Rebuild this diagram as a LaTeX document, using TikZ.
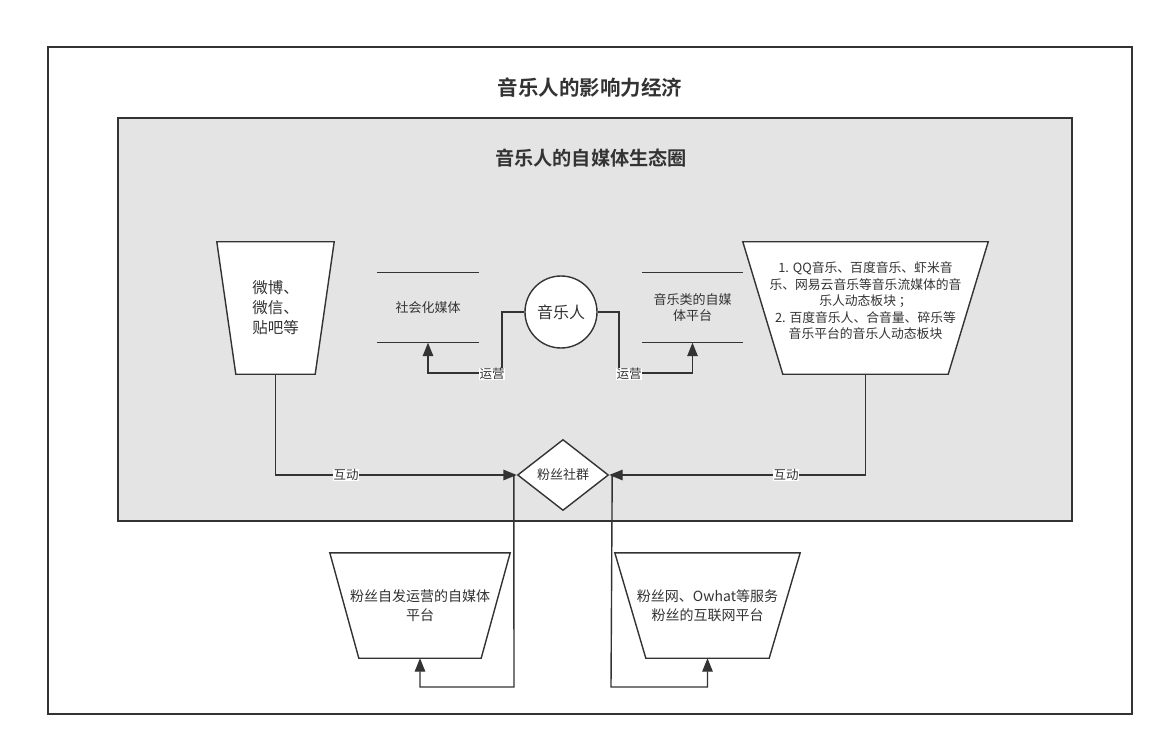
\documentclass[tikz,border=0pt]{standalone}
\usepackage{fontspec}
\setmainfont{Noto Sans CJK SC}[BoldFont={Noto Sans CJK SC Bold}]
\usetikzlibrary{arrows.meta,shapes.geometric}
\definecolor{ink}{HTML}{333333}
\definecolor{panel}{HTML}{E4E4E4}
\begin{document}
\begin{tikzpicture}[x=1pt,y=-1pt,
  ln/.style={draw=ink,line width=1.4pt},
  arr/.style={ln,-{Triangle[length=13.5pt,width=10.5pt]}},
  box/.style={draw=none,inner sep=0,minimum width=#1},
  txt/.style={text=ink,align=center,inner sep=0},
  lbl/.style={text=ink,fill=white,inner sep=0.5pt,font=\fontsize{12.5}{14}\selectfont},
  ttl/.style={text=ink,font=\bfseries}]
\useasboundingbox[fill=white] (0,0) rectangle (1163,746);
% frames
\node[draw=ink,line width=1.4pt,inner sep=0,minimum width=1084,minimum height=667] (outer) at (590,380.5) {};
\node[draw=ink,fill=panel,line width=1.4pt,inner sep=0,minimum width=954,minimum height=403] (eco) at (595,319.5) {};
\node[ttl,font=\fontsize{20.5}{24}\selectfont\bfseries] (t1) at (590,88) {音乐人的影响力经济};
\node[ttl,font=\fontsize{19.2}{24}\selectfont\bfseries] (t2) at (591,158) {音乐人的自媒体生态圈};
% left trapezoid
\node[box=117,minimum height=132] (lt) at (275.5,308) {};
\draw[ln,fill=white] (lt.north west) -- (lt.north east) -- ([xshift=-19pt]lt.south east) -- ([xshift=19pt]lt.south west) -- cycle;
\node[txt,font=\fontsize{15.5}{20}\selectfont] (ltt) at (lt.center) {微博、\\微信、\\贴吧等};
% right trapezoid
\node[box=245,minimum height=132] (rt) at (865.5,308) {};
\draw[ln,fill=white] (rt.north west) -- (rt.north east) -- ([xshift=-40pt]rt.south east) -- ([xshift=40pt]rt.south west) -- cycle;
\node[txt,font=\fontsize{12.8}{16.5}\selectfont] (rtt) at ([yshift=7pt]rt.center) {1. QQ音乐、百度音乐、虾米音\\乐、网易云音乐等音乐流媒体的音\\乐人动态板块 ；\\2. 百度音乐人、合音量、碎乐等\\音乐平台的音乐人动态板块};
% social media
\node[box=102,minimum height=70] (sm) at (428,307.5) {};
\draw[ln] (sm.north west) -- (sm.north east) (sm.south west) -- (sm.south east);
\node[txt,font=\fontsize{13}{16}\selectfont] (smt) at (sm.center) {社会化媒体};
% music platforms
\node[box=101,minimum height=70] (mp) at (692.5,307.5) {};
\draw[ln] (mp.north west) -- (mp.north east) (mp.south west) -- (mp.south east);
\node[txt,font=\fontsize{13}{16.5}\selectfont] (mpt) at (mp.center) {音乐类的自媒\\体平台};
% musician
\node[circle,ln,fill=white,minimum size=72,inner sep=0,text=ink,font=\fontsize{16}{18}\selectfont] (mu) at (561,312) {音乐人};
% fan community
\node[diamond,ln,fill=white,minimum width=91,minimum height=71,inner sep=0,text=ink,font=\fontsize{13}{16}\selectfont] (fan) at (563,475) {粉丝社群};
% bottom trapezoids
\node[box=180,minimum height=105] (bl) at (420,605.5) {};
\draw[ln,fill=white] (bl.north west) -- (bl.north east) -- ([xshift=-29pt]bl.south east) -- ([xshift=29pt]bl.south west) -- cycle;
\node[txt,font=\fontsize{14}{18.5}\selectfont] (blt) at (bl.center) {粉丝自发运营的自媒体\\平台};
\node[box=185,minimum height=105] (br) at (707.5,605.5) {};
\draw[ln,fill=white] (br.north west) -- (br.north east) -- ([xshift=-31pt]br.south east) -- ([xshift=31pt]br.south west) -- cycle;
\node[txt,font=\fontsize{14}{18.5}\selectfont] (brt) at (br.center) {粉丝网、Owhat等服务\\粉丝的互联网平台};
% connectors
\coordinate (c1) at (502,373);
\coordinate (c2) at (619,373);
\draw[arr] (mu.west) -| (c1) -| (sm.south);
\draw[arr] (mu.east) -| (c2) -| (mp.south);
\node[lbl] (l1) at (492,374) {运营};
\node[lbl] (l2) at (629,374) {运营};
\draw[arr] (lt.south) |- (fan.west);
\draw[arr] (rt.south) |- (fan.east);
\node[lbl] (l3) at (346,475) {互动};
\node[lbl] (l4) at (786,475) {互动};
\coordinate (c3) at (514,687);
\coordinate (c4) at (611,687);
\draw[arr] ([xshift=-3pt]fan.west) -- (c3) -| (bl.south);
\draw[arr] ([xshift=3pt]fan.east) -- (c4) -| (br.south);
\end{tikzpicture}
\end{document}
